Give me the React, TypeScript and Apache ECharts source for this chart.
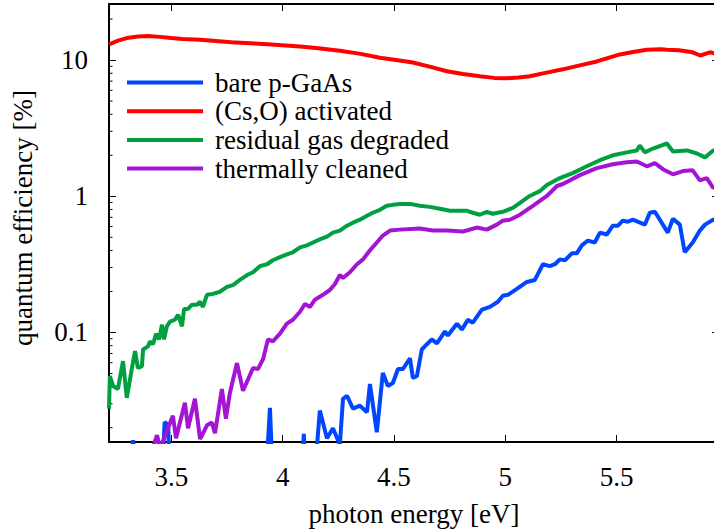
import React, { useEffect, useRef } from 'react';
import * as echarts from 'echarts';

// Axis extents (photon energy in eV, quantum efficiency in %)
const X_MIN = 3.22;
const X_MAX = 5.96;
const Y_MIN = 0.0157;
const Y_MAX = 25.8;

const seriesNames = ['bare p-GaAs', '(Cs,O) activated', 'residual gas degraded', 'thermally cleaned'];
const seriesColors = ['#0046ff', '#ff0000', '#00a040', '#a414d4'];

// Minor decade ticks on the logarithmic axis
const minorTickValues = [
  0.02, 0.03, 0.04, 0.05, 0.06, 0.07, 0.08, 0.09,
  0.2, 0.3, 0.4, 0.5, 0.6, 0.7, 0.8, 0.9,
  2, 3, 4, 5, 6, 7, 8, 9, 20,
];

// [energy eV, QE %]
const bareGaAs: [number, number][] = [
  [3.22, 0.012], [3.32, 0.012], [3.328, 0.0162], [3.336, 0.012], [3.462, 0.012], [3.47, 0.022],
  [3.486, 0.021], [3.49, 0.012], [3.93, 0.012], [3.943, 0.028], [3.952, 0.012], [4.09, 0.012],
  [4.095, 0.018], [4.1, 0.012], [4.15, 0.012], [4.167, 0.0267], [4.199, 0.0167], [4.226, 0.0198],
  [4.257, 0.015], [4.271, 0.0326], [4.289, 0.0343], [4.316, 0.0276], [4.347, 0.029], [4.379, 0.026],
  [4.392, 0.0419], [4.423, 0.0185], [4.45, 0.0504], [4.473, 0.0405], [4.495, 0.0426], [4.518, 0.0539],
  [4.54, 0.0539], [4.572, 0.0647], [4.585, 0.0463], [4.603, 0.0479], [4.625, 0.075], [4.648, 0.082],
  [4.67, 0.089], [4.693, 0.0832], [4.729, 0.1017], [4.742, 0.095], [4.783, 0.116], [4.805, 0.105],
  [4.832, 0.124], [4.854, 0.118], [4.895, 0.147], [4.931, 0.154], [4.967, 0.168], [4.989, 0.186],
  [5.012, 0.189], [5.052, 0.209], [5.097, 0.235], [5.133, 0.243], [5.169, 0.317], [5.2, 0.307],
  [5.223, 0.317], [5.245, 0.344], [5.268, 0.339], [5.299, 0.381], [5.321, 0.381], [5.344, 0.436],
  [5.371, 0.473], [5.402, 0.458], [5.425, 0.541], [5.456, 0.524], [5.483, 0.608], [5.506, 0.608],
  [5.528, 0.662], [5.551, 0.651], [5.573, 0.673], [5.627, 0.619], [5.649, 0.757], [5.672, 0.769],
  [5.73, 0.541], [5.753, 0.684], [5.784, 0.619], [5.806, 0.388], [5.842, 0.458], [5.874, 0.56],
  [5.897, 0.619], [5.934, 0.673], [5.96, 0.69],
];

const csoActivated: [number, number][] = [
  [3.22, 13.0], [3.26, 13.9], [3.3, 14.5], [3.35, 14.9], [3.395, 15.0], [3.45, 14.8], [3.5, 14.5],
  [3.55, 14.3], [3.629, 14.1], [3.7, 13.8], [3.77, 13.5], [3.853, 13.3], [3.95, 13.0], [4.078, 12.6],
  [4.16, 12.2], [4.257, 11.7], [4.35, 11.1], [4.437, 10.4], [4.51, 10.0], [4.585, 9.6], [4.66, 8.95],
  [4.738, 8.27], [4.81, 7.9], [4.886, 7.6], [4.95, 7.4], [5.007, 7.35], [5.06, 7.45], [5.11, 7.6],
  [5.18, 8.05], [5.259, 8.55], [5.33, 9.1], [5.411, 9.77], [5.515, 11.0], [5.58, 11.5], [5.636, 11.9],
  [5.7, 12.0], [5.726, 11.9], [5.78, 11.8], [5.842, 11.4], [5.876, 10.8], [5.905, 11.2], [5.92, 11.4],
  [5.96, 11.0],
];

const residualGas: [number, number][] = [
  [3.22, 0.0276], [3.224, 0.0479], [3.238, 0.0405], [3.26, 0.0385], [3.283, 0.0615], [3.3, 0.0331],
  [3.323, 0.0548], [3.337, 0.073], [3.35, 0.0548], [3.368, 0.0566], [3.373, 0.075], [3.395, 0.079],
  [3.404, 0.086], [3.418, 0.082], [3.431, 0.098], [3.445, 0.089], [3.458, 0.114], [3.467, 0.089],
  [3.48, 0.111], [3.494, 0.12], [3.516, 0.124], [3.53, 0.135], [3.548, 0.111], [3.557, 0.149],
  [3.575, 0.149], [3.593, 0.16], [3.615, 0.16], [3.629, 0.168], [3.642, 0.154], [3.66, 0.189],
  [3.687, 0.192], [3.718, 0.199], [3.75, 0.216], [3.777, 0.223], [3.808, 0.243], [3.84, 0.264],
  [3.867, 0.277], [3.898, 0.307], [3.93, 0.317], [3.956, 0.339], [3.988, 0.357], [4.019, 0.375],
  [4.046, 0.388], [4.078, 0.421], [4.109, 0.436], [4.136, 0.458], [4.167, 0.482], [4.199, 0.506],
  [4.226, 0.541], [4.257, 0.56], [4.289, 0.608], [4.316, 0.64], [4.347, 0.673], [4.379, 0.72],
  [4.405, 0.757], [4.437, 0.795], [4.468, 0.851], [4.495, 0.865], [4.527, 0.879], [4.572, 0.879],
  [4.616, 0.851], [4.661, 0.836], [4.706, 0.809], [4.751, 0.782], [4.796, 0.782], [4.828, 0.782],
  [4.854, 0.757], [4.886, 0.732], [4.917, 0.769], [4.944, 0.744], [4.989, 0.769], [5.034, 0.822],
  [5.066, 0.894], [5.11, 1.005], [5.155, 1.09], [5.187, 1.21], [5.245, 1.36], [5.303, 1.48],
  [5.366, 1.66], [5.425, 1.84], [5.483, 2.0], [5.546, 2.1], [5.591, 2.17], [5.604, 2.36],
  [5.627, 2.1], [5.663, 2.24], [5.726, 2.44], [5.753, 2.13], [5.816, 2.17], [5.861, 2.06],
  [5.897, 1.93], [5.934, 2.17], [5.96, 2.2],
];

const thermallyCleaned: [number, number][] = [
  [3.4, 0.012], [3.436, 0.0176], [3.449, 0.014], [3.507, 0.0245], [3.521, 0.0167], [3.561, 0.0305],
  [3.575, 0.0198], [3.606, 0.0326], [3.629, 0.0165], [3.66, 0.0208], [3.682, 0.0218], [3.696, 0.0182],
  [3.727, 0.0385], [3.745, 0.0233], [3.763, 0.036], [3.795, 0.0596], [3.822, 0.0373], [3.867, 0.0548],
  [3.889, 0.0539], [3.912, 0.0637], [3.934, 0.089], [3.956, 0.086], [3.988, 0.098], [4.019, 0.116],
  [4.046, 0.124], [4.078, 0.142], [4.1, 0.162], [4.123, 0.154], [4.145, 0.174], [4.181, 0.189],
  [4.212, 0.205], [4.235, 0.227], [4.257, 0.264], [4.271, 0.251], [4.302, 0.277], [4.334, 0.317],
  [4.361, 0.344], [4.392, 0.401], [4.423, 0.458], [4.45, 0.515], [4.482, 0.56], [4.527, 0.569],
  [4.616, 0.579], [4.675, 0.56], [4.738, 0.56], [4.81, 0.551], [4.872, 0.589], [4.917, 0.569],
  [4.962, 0.619], [4.989, 0.662], [5.021, 0.673], [5.066, 0.732], [5.124, 0.851], [5.187, 1.005],
  [5.232, 1.19], [5.259, 1.23], [5.335, 1.43], [5.411, 1.61], [5.483, 1.72], [5.546, 1.78],
  [5.591, 1.8], [5.636, 1.66], [5.672, 1.75], [5.708, 1.58], [5.753, 1.45], [5.798, 1.53],
  [5.842, 1.55], [5.874, 1.31], [5.905, 1.36], [5.934, 1.15], [5.96, 1.2],
];

const seriesData = [bareGaAs, csoActivated, residualGas, thermallyCleaned];

const FONT = 'Liberation Serif';
const FONT_SIZE = 27;

export default function App() {
  const ref = useRef<HTMLDivElement>(null);

  useEffect(() => {
    if (!ref.current) return;
    const chart = echarts.init(ref.current, undefined, { renderer: 'svg' });

    const frameLine = { show: true, lineStyle: { color: '#000', width: 2 } };
    const majorTick = { show: true, inside: true, length: 7, lineStyle: { color: '#000', width: 1 } };

    const logAxisBase = {
      type: 'log' as const,
      logBase: 10,
      min: Y_MIN,
      max: Y_MAX,
      splitLine: { show: false },
      minorTick: { show: false },
      axisLine: frameLine,
      axisTick: majorTick,
    };
    const energyAxisBase = {
      type: 'value' as const,
      min: X_MIN,
      max: X_MAX,
      splitLine: { show: false },
      axisLine: frameLine,
      axisTick: majorTick,
    };

    const option: any = {
      animation: false,
      textStyle: { fontFamily: FONT, color: '#000' },
      grid: { left: 109, right: 5, top: 4, bottom: 85.3, containLabel: false },
      legend: {
        data: seriesNames,
        orient: 'vertical',
        left: 127,
        top: 69,
        padding: 0,
        icon: 'rect',
        itemWidth: 76,
        itemHeight: 4,
        itemGap: 1.7,
        textStyle: {
          fontFamily: FONT,
          fontSize: FONT_SIZE,
          lineHeight: 26,
          color: '#000',
          padding: [0, 0, 0, 7],
        },
      },
      xAxis: [
        {
          ...energyAxisBase,
          position: 'bottom',
          name: 'photon energy [eV]',
          nameLocation: 'middle',
          nameGap: 58,
          nameTextStyle: { fontFamily: FONT, fontSize: FONT_SIZE, color: '#000' },
          axisLabel: {
            margin: 21,
            fontFamily: FONT,
            fontSize: FONT_SIZE,
            color: '#000',
            showMinLabel: false,
            showMaxLabel: false,
          },
        },
        {
          ...energyAxisBase,
          position: 'top',
          axisLabel: { show: false },
        },
      ],
      yAxis: [
        {
          ...logAxisBase,
          position: 'left',
          axisLabel: {
            margin: 21,
            fontFamily: FONT,
            fontSize: FONT_SIZE,
            color: '#000',
            showMinLabel: false,
            showMaxLabel: false,
            formatter: (v: number) => String(Number(v.toPrecision(3))),
          },
        },
        {
          ...logAxisBase,
          position: 'right',
          axisLabel: { show: false },
        },
      ],
      graphic: [
        {
          type: 'text',
          x: 23,
          y: 218,
          rotation: Math.PI / 2,
          style: {
            text: 'quantum efficiency [%]',
            fontFamily: FONT,
            fontSize: FONT_SIZE,
            fill: '#000',
            align: 'center',
            verticalAlign: 'middle',
            textAlign: 'center',
            textVerticalAlign: 'middle',
          },
        },
      ],
      series: [
        ...seriesNames.map((name, i) => ({
          name,
          type: 'line',
          xAxisIndex: 0,
          yAxisIndex: 0,
          data: seriesData[i],
          showSymbol: false,
          symbol: 'none',
          clip: true,
          color: seriesColors[i],
          lineStyle: { color: seriesColors[i], width: 4 },
          z: 3 + i,
        })),
        {
          name: 'minor ticks',
          type: 'custom',
          xAxisIndex: 0,
          yAxisIndex: 0,
          silent: true,
          z: 2,
          data: minorTickValues.map((v) => [X_MIN, v]),
          renderItem: (_params: any, api: any) => {
            const v = api.value(1);
            const l = api.coord([X_MIN, v]);
            const r = api.coord([X_MAX, v]);
            const stroke = { stroke: '#000', lineWidth: 1 };
            return {
              type: 'group',
              children: [
                { type: 'line', shape: { x1: l[0], y1: l[1], x2: l[0] + 3.5, y2: l[1] }, style: stroke },
                { type: 'line', shape: { x1: r[0] - 3.5, y1: r[1], x2: r[0], y2: r[1] }, style: stroke },
              ],
            };
          },
        },
      ],
    };

    chart.setOption(option);
    return () => chart.dispose();
  }, []);

  return (
    <div style={{ position: 'fixed', left: 0, top: 0, width: 714, height: 532, overflow: 'hidden', background: '#fff' }}>
      <div ref={ref} style={{ width: 724, height: 532 }} />
    </div>
  );
}
